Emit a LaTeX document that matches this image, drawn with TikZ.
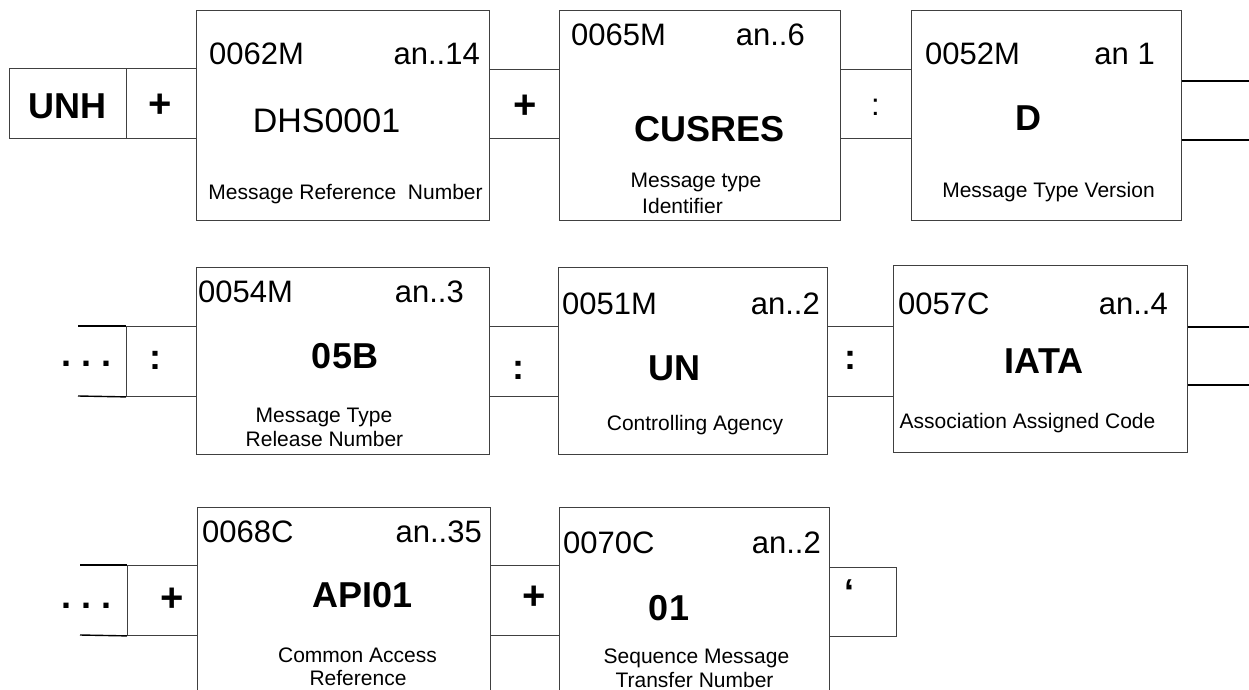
\documentclass[tikz,border=0pt]{standalone}
\usepackage{fontspec}
\setmainfont{Liberation Sans}
\begin{document}
\begin{tikzpicture}[x=1pt,y=-1pt,
  fbox/.style={draw=black!75, line width=0.9pt, anchor=north west, inner sep=0pt},
  lnk/.style={draw=black!75, line width=0.9pt},
  heavy/.style={draw=black, line width=1.4pt},
  code/.style={font=\fontsize{31}{36}\selectfont, inner sep=0pt},
  val/.style={font=\fontsize{36}{42}\selectfont\bfseries, inner sep=0pt},
  desc/.style={font=\fontsize{21}{25}\selectfont, inner sep=0pt},
  sym/.style={font=\fontsize{40}{44}\selectfont\bfseries, inner sep=0pt},
  col/.style={font=\fontsize{31}{36}\selectfont, inner sep=0pt}]
\clip (0,0) rectangle (1249,690);
\fill[white] (0,0) rectangle (1249,690);

% ---------- row 1 ----------
\node[fbox, minimum width=117pt, minimum height=70pt] (unh) at (9,68) {};
\node[fbox, minimum width=70pt, minimum height=70pt] (p0) at (126,68) {};
\node[fbox, minimum width=293pt, minimum height=210pt] (b1) at (196,10) {};
\node[fbox, minimum width=281pt, minimum height=210pt] (b2) at (559,10) {};
\node[fbox, minimum width=270pt, minimum height=210pt] (b3) at (911,10) {};

\draw[lnk] (b1.east |- 0,69) -- (b2.west |- 0,69);
\draw[lnk] (b1.east |- 0,138) -- (b2.west |- 0,138);
\draw[lnk] (b2.east |- 0,69) -- (b3.west |- 0,69);
\draw[lnk] (b2.east |- 0,138) -- (b3.west |- 0,138);
\coordinate (r1a) at (1249,81);
\coordinate (r1b) at (1249,140);
\draw[heavy] (b3.east |- r1a) -- (r1a);
\draw[heavy] (b3.east |- r1b) -- (r1b);

\node[val, anchor=base] (tunh) at (67.5,118) {UNH};
\node[sym] (s0) at (160,106) {+};
\node[sym] (s1) at (525,107) {+};
\node[col] (s2) at (875.5,107) {:};

\node[code, anchor=base west] (c1) at (209,65) {0062M};
\node[code, anchor=base east] (f1) at (480,65) {an..14};
\node[font=\fontsize{34}{40}\selectfont, inner sep=0pt, anchor=base] (v1) at (326.5,132) {DHS0001};
\node[desc, anchor=base] (d1) at (345.5,199) {Message Reference\ \ Number};

\node[code, anchor=base west] (c2) at (571,46) {0065M};
\node[code, anchor=base east] (f2) at (805,46) {an..6};
\node[val, anchor=base] (v2) at (709.5,142) {CUSRES};
\node[desc, anchor=base] (d2a) at (696,187) {Message type};
\node[desc, anchor=base] (d2b) at (682.5,213) {Identifier};

\node[code, anchor=base west] (c3) at (925,65) {0052M};
\node[code, anchor=base east] (f3) at (1155,65) {an 1};
\node[val, anchor=base] (v3) at (1028,130) {D};
\node[desc, anchor=base] (d3) at (1048.5,197) {Message Type Version};

% ---------- row 2 ----------
\node[fbox, minimum width=70pt, minimum height=70pt] (k4) at (126,326) {};
\node[fbox, minimum width=293pt, minimum height=187pt] (b4) at (196,267) {};
\node[fbox, minimum width=269pt, minimum height=187pt] (b5) at (558,267) {};
\node[fbox, minimum width=294pt, minimum height=187pt] (b6) at (893,265) {};

\coordinate (l2a) at (78,326);
\coordinate (l2b) at (78,396);
\draw[heavy] (l2a) -- (k4.north west);
\draw[heavy] (l2b) -- (k4.south west);
\draw[lnk] (b4.east |- 0,326) -- (b5.west |- 0,326);
\draw[lnk] (b4.east |- 0,396) -- (b5.west |- 0,396);
\draw[lnk] (b5.east |- 0,326) -- (b6.west |- 0,326);
\draw[lnk] (b5.east |- 0,396) -- (b6.west |- 0,396);
\coordinate (r2a) at (1249,327);
\coordinate (r2b) at (1249,385);
\draw[heavy] (b6.east |- r2a) -- (r2a);
\draw[heavy] (b6.east |- r2b) -- (r2b);

\node[val, anchor=base] (dots2) at (87,366) {.\ .\ .};
\node[val] (s4) at (155,360) {:};
\node[val] (s5) at (518,370) {:};
\node[val] (s6) at (850,360) {:};

\node[code, anchor=base west] (c4) at (198,302) {0054M};
\node[code, anchor=base east] (f4) at (464,302) {an..3};
\node[val, anchor=base] (v4) at (345,368) {05B};
\node[desc, anchor=base] (d4a) at (324,422) {Message Type};
\node[desc, anchor=base] (d4b) at (324.5,446) {Release Number};

\node[code, anchor=base west] (c5) at (562,314) {0051M};
\node[code, anchor=base east] (f5) at (820,314) {an..2};
\node[val, anchor=base] (v5) at (674.5,380) {UN};
\node[desc, anchor=base] (d5) at (695,430) {Controlling Agency};

\node[code, anchor=base west] (c6) at (898,314) {0057C};
\node[code, anchor=base east] (f6) at (1168,314) {an..4};
\node[val, anchor=base] (v6) at (1044,373) {IATA};
\node[desc, anchor=base] (d6) at (1027.5,428) {Association Assigned Code};

% ---------- row 3 ----------
\node[fbox, minimum width=70pt, minimum height=70pt] (p7) at (127,565) {};
\node[fbox, minimum width=293pt, minimum height=220pt] (b7) at (197,507) {};
\node[fbox, minimum width=270pt, minimum height=220pt] (b8) at (559,507) {};
\node[fbox, minimum width=67pt, minimum height=69pt] (q) at (829,567) {};

\coordinate (l3a) at (80,565);
\coordinate (l3b) at (80,635);
\draw[heavy] (l3a) -- (p7.north west);
\draw[heavy] (l3b) -- (p7.south west);
\draw[lnk] (b7.east |- 0,565) -- (b8.west |- 0,565);
\draw[lnk] (b7.east |- 0,635) -- (b8.west |- 0,635);

\node[val, anchor=base] (dots3) at (87,608) {.\ .\ .};
\node[sym] (s7) at (172,600) {+};
\node[sym] (s8) at (534,598) {+};
\node[val] (s9) at (849,592) {‘};

\node[code, anchor=base west] (c7) at (202,542) {0068C};
\node[code, anchor=base east] (f7) at (482,542) {an..35};
\node[val, anchor=base] (v7) at (362.5,607) {API01};
\node[desc, anchor=base] (d7a) at (357.5,662) {Common Access};
\node[desc, anchor=base] (d7b) at (358,685) {Reference};

\node[code, anchor=base west] (c8) at (563,553) {0070C};
\node[code, anchor=base east] (f8) at (821,553) {an..2};
\node[val, anchor=base] (v8) at (669,620) {01};
\node[desc, anchor=base] (d8a) at (696.5,663) {Sequence Message};
\node[desc, anchor=base] (d8b) at (694.5,687) {Transfer Number};
\end{tikzpicture}
\end{document}
